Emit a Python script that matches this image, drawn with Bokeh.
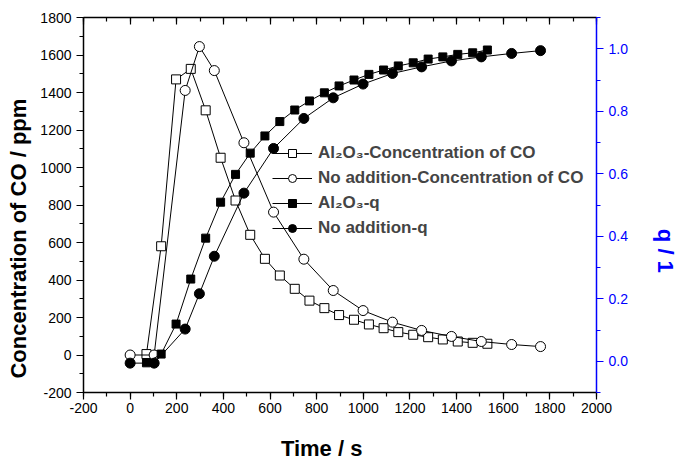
from bokeh.plotting import figure
from bokeh.models import (Range1d, LinearAxis, SingleIntervalTicker, PrintfTickFormatter,
                          CustomJSTickFormatter, Legend, LegendItem)
from bokeh.embed import file_html
from bokeh.resources import INLINE

# ---- data ----
t_al = [70, 133, 197, 260, 324, 388, 452, 515, 578, 642, 706, 769, 833, 896,
        960, 1024, 1087, 1150, 1214, 1278, 1341, 1405, 1469, 1532]
co_al = [5, 580, 1470, 1526, 1305, 1052, 824, 641, 513, 424, 353, 290, 250, 213,
         188, 163, 143, 122, 108, 95, 83, 72, 65, 60]
q_al = [-0.005, 0.023, 0.119, 0.263, 0.394, 0.509, 0.598, 0.666, 0.721, 0.767,
        0.804, 0.833, 0.859, 0.881, 0.900, 0.918, 0.932, 0.945, 0.955, 0.967,
        0.974, 0.982, 0.987, 0.996]
t_no = [0, 103, 236, 297, 361, 488, 615, 745, 871, 999, 1125, 1250, 1378, 1506, 1636, 1760]
co_no = [0, 0, 1411, 1645, 1517, 1132, 762, 511, 344, 237, 175, 131, 99, 72, 56, 45]
q_no = [-0.006, -0.006, 0.103, 0.216, 0.336, 0.538, 0.681, 0.777, 0.843, 0.887,
        0.921, 0.942, 0.961, 0.974, 0.985, 0.994]

labels = ["Al\u2082O\u2083-Concentration of CO",
          "No addition-Concentration of CO",
          "Al\u2082O\u2083-q",
          "No addition-q"]

NB = "\u00a0"
x_title = "Time / s" + NB * 6
y_title = "Concentration of CO / ppm" + NB * 11
q_title = NB * 15 + "q / 1"

FONT = "Liberation Sans"
BLUE = "#0000FF"

p = figure(width=680, height=463, output_backend="svg", toolbar_location=None,
           x_range=Range1d(-200, 2000), y_range=Range1d(-200, 1800),
           min_border_left=83, min_border_right=83, min_border_top=17, min_border_bottom=71,
           x_axis_label=x_title, y_axis_label=y_title)
p.extra_y_ranges = {"q": Range1d(-0.1, 1.1)}
p.xgrid.visible = False
p.ygrid.visible = False
p.outline_line_color = None
p.background_fill_color = "white"
p.border_fill_color = "white"

def style_axis(ax, color="black"):
    ax.axis_line_color = color
    ax.axis_line_width = 1.5
    ax.major_tick_line_color = color
    ax.minor_tick_line_color = color
    ax.major_tick_line_width = 1.2
    ax.minor_tick_line_width = 1.2
    ax.major_tick_out = 7
    ax.major_tick_in = 0
    ax.minor_tick_out = 4
    ax.minor_tick_in = 0
    ax.major_label_text_font = FONT
    ax.major_label_text_font_size = "14px"
    ax.major_label_text_color = color
    ax.axis_label_text_font = FONT
    ax.axis_label_text_font_style = "bold"
    ax.axis_label_text_font_size = "22px"
    ax.axis_label_text_color = color

xa = p.xaxis[0]
xa.ticker = SingleIntervalTicker(interval=200, num_minor_ticks=2)
xa.formatter = PrintfTickFormatter(format="%d")
style_axis(xa)
xa.major_label_standoff = 3
xa.axis_label_standoff = 20

ya = p.yaxis[0]
ya.ticker = SingleIntervalTicker(interval=200, num_minor_ticks=2)
ya.formatter = PrintfTickFormatter(format="%d")
style_axis(ya)
ya.major_label_standoff = 5
ya.axis_label_standoff = 6

top = LinearAxis(ticker=SingleIntervalTicker(interval=200, num_minor_ticks=2),
                 formatter=CustomJSTickFormatter(code="return ''"))
style_axis(top)
top.major_tick_out = 0
top.major_tick_in = 7
top.minor_tick_out = 0
top.minor_tick_in = 4
top.major_label_standoff = 0
p.add_layout(top, "above")

ra = LinearAxis(y_range_name="q", axis_label=q_title,
                ticker=SingleIntervalTicker(interval=0.2, num_minor_ticks=2),
                formatter=PrintfTickFormatter(format="%.1f"))
style_axis(ra, BLUE)
ra.major_label_standoff = 5
ra.axis_label_standoff = 22
p.add_layout(ra, "right")

# ---- series ----
l1 = p.line(t_al, co_al, line_color="black", line_width=1)
s1 = p.scatter(t_al, co_al, marker="square", size=9, fill_color="white",
               line_color="black", line_width=1)
l2 = p.line(t_no, co_no, line_color="black", line_width=1)
s2 = p.scatter(t_no, co_no, marker="circle", size=10, fill_color="white",
               line_color="black", line_width=1)
l3 = p.line(t_al, q_al, line_color="black", line_width=1, y_range_name="q")
s3 = p.scatter(t_al, q_al, marker="square", size=8, fill_color="black",
               line_color="black", y_range_name="q")
l4 = p.line(t_no, q_no, line_color="black", line_width=1, y_range_name="q")
s4 = p.scatter(t_no, q_no, marker="circle", size=10, fill_color="black",
               line_color="black", y_range_name="q")

legend = Legend(items=[LegendItem(label=labels[0], renderers=[l1, s1]),
                       LegendItem(label=labels[1], renderers=[l2, s2]),
                       LegendItem(label=labels[2], renderers=[l3, s3]),
                       LegendItem(label=labels[3], renderers=[l4, s4])],
                location=(189, 154), glyph_width=40, glyph_height=20,
                label_height=20, spacing=5, padding=0, margin=0, label_standoff=6,
                background_fill_alpha=0, border_line_alpha=0,
                label_text_font=FONT, label_text_font_style="bold",
                label_text_font_size="17px")
p.add_layout(legend)

open("out.html", "w").write(file_html(p, INLINE))
